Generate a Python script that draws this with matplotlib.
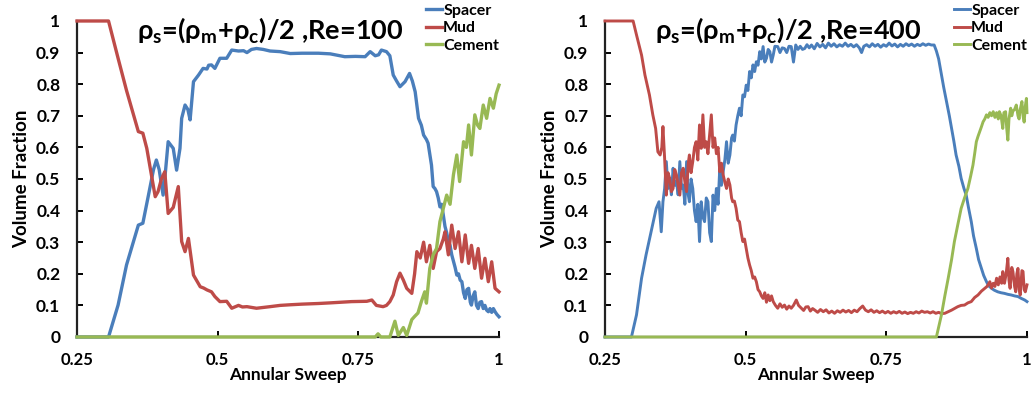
import matplotlib
matplotlib.use("Agg")
import matplotlib.pyplot as plt

plt.rcParams['font.family'] = ['Lato', 'DejaVu Sans']
plt.rcParams['font.weight'] = 'bold'

# ---- Re=100 ----
x_spacer_100 = [0.25, 0.306, 0.323, 0.338, 0.359, 0.367, 0.377, 0.386, 0.391, 0.396, 0.403, 0.407,
                0.412, 0.421, 0.427, 0.433, 0.436, 0.442, 0.447, 0.451, 0.457, 0.466, 0.474, 0.481,
                0.484, 0.489, 0.495, 0.504, 0.516, 0.525, 0.537, 0.546, 0.552, 0.560, 0.569, 0.581,
                0.593, 0.611, 0.629, 0.65, 0.679, 0.70, 0.726, 0.745, 0.762, 0.771, 0.78, 0.786,
                0.791, 0.80, 0.806, 0.812, 0.818, 0.824, 0.833, 0.841, 0.846, 0.851, 0.857, 0.862,
                0.866, 0.871, 0.874, 0.880, 0.883, 0.886, 0.889, 0.892, 0.895, 0.898, 0.901, 0.904,
                0.907, 0.910, 0.913, 0.916, 0.919, 0.922, 0.925, 0.928, 0.931, 0.934, 0.937, 0.940,
                0.943, 0.946, 0.949, 0.951, 0.954, 0.957, 0.960, 0.963, 0.966, 0.969, 0.972, 0.975,
                0.978, 0.981, 0.984, 0.987, 0.990, 0.993, 0.996, 1.0]
spacer_100 = [0, 0, 0.101, 0.228, 0.354, 0.36, 0.449, 0.53, 0.56, 0.53, 0.449, 0.52,
              0.618, 0.597, 0.528, 0.597, 0.692, 0.734, 0.72, 0.687, 0.808, 0.829, 0.85, 0.848,
              0.86, 0.861, 0.85, 0.882, 0.882, 0.908, 0.905, 0.906, 0.90, 0.91, 0.913, 0.91,
              0.905, 0.903, 0.897, 0.898, 0.898, 0.896, 0.887, 0.888, 0.887, 0.903, 0.89, 0.893,
              0.908, 0.903, 0.89, 0.829, 0.81, 0.792, 0.808, 0.834, 0.81, 0.776, 0.692, 0.67,
              0.639, 0.625, 0.613, 0.544, 0.476, 0.47, 0.46, 0.44, 0.412, 0.42, 0.386, 0.35,
              0.33, 0.302, 0.29, 0.26, 0.24, 0.22, 0.196, 0.2, 0.18, 0.175, 0.14, 0.122,
              0.15, 0.154, 0.11, 0.101, 0.13, 0.143, 0.10, 0.09, 0.11, 0.112, 0.09, 0.10,
              0.085, 0.08, 0.09, 0.078, 0.09, 0.08, 0.072, 0.064]

x_mud_100 = [0.25, 0.306, 0.323, 0.338, 0.359, 0.367, 0.374, 0.389, 0.394, 0.400, 0.406, 0.412,
             0.421, 0.430, 0.436, 0.442, 0.448, 0.457, 0.469, 0.475, 0.481, 0.489, 0.495, 0.504,
             0.516, 0.525, 0.537, 0.544, 0.552, 0.569, 0.593, 0.611, 0.629, 0.65, 0.679, 0.70,
             0.738, 0.765, 0.774, 0.782, 0.794, 0.80, 0.806, 0.812, 0.818, 0.824, 0.830, 0.836,
             0.845, 0.850, 0.854, 0.860, 0.866, 0.871, 0.877, 0.883, 0.889, 0.895, 0.901, 0.904,
             0.910, 0.916, 0.922, 0.928, 0.934, 0.940, 0.946, 0.951, 0.957, 0.963, 0.969, 0.975,
             0.981, 0.987, 0.993, 1.0]
mud_100 = [1, 1, 0.882, 0.78, 0.65, 0.645, 0.597, 0.444, 0.46, 0.50, 0.523, 0.391,
           0.41, 0.476, 0.302, 0.27, 0.312, 0.196, 0.159, 0.155, 0.149, 0.143, 0.128, 0.112,
           0.113, 0.091, 0.10, 0.095, 0.096, 0.091, 0.096, 0.10, 0.102, 0.104, 0.106, 0.108,
           0.112, 0.113, 0.117, 0.10, 0.096, 0.10, 0.112, 0.133, 0.175, 0.202, 0.18, 0.154,
           0.138, 0.2, 0.27, 0.25, 0.30, 0.238, 0.29, 0.217, 0.27, 0.28, 0.31, 0.333,
           0.26, 0.354, 0.28, 0.333, 0.238, 0.323, 0.233, 0.29, 0.217, 0.28, 0.186, 0.249,
           0.175, 0.238, 0.154, 0.143]

x_cement_100 = [0.25, 0.78, 0.785, 0.79, 0.806, 0.815, 0.821, 0.83, 0.836, 0.845, 0.850, 0.856,
                0.862, 0.868, 0.871, 0.877, 0.883, 0.889, 0.895, 0.901, 0.907, 0.913, 0.919, 0.925,
                0.930, 0.937, 0.942, 0.946, 0.951, 0.957, 0.962, 0.966, 0.972, 0.978, 0.984, 0.99,
                0.995, 1.0]
cement_100 = [0, 0, 0.01, 0, 0, 0.05, 0.005, 0.03, 0.005, 0.055, 0.065, 0.076,
              0.112, 0.143, 0.107, 0.217, 0.26, 0.28, 0.365, 0.407, 0.449, 0.42, 0.513, 0.576,
              0.492, 0.618, 0.60, 0.671, 0.576, 0.703, 0.67, 0.66, 0.734, 0.692, 0.755, 0.724,
              0.77, 0.797]

# ---- Re=400 ----
x_spacer_400 = [0.25, 0.297, 0.306, 0.315, 0.323, 0.332, 0.341, 0.346, 0.350, 0.353, 0.356, 0.359,
                0.362, 0.365, 0.368, 0.371, 0.374, 0.377, 0.380, 0.383, 0.386, 0.389, 0.392, 0.395,
                0.398, 0.400, 0.403, 0.406, 0.409, 0.412, 0.415, 0.418, 0.421, 0.424, 0.427, 0.430,
                0.433, 0.436, 0.439, 0.442, 0.445, 0.448, 0.451, 0.454, 0.457, 0.460, 0.463, 0.466,
                0.469, 0.472, 0.475, 0.477, 0.480, 0.483, 0.486, 0.489, 0.492, 0.495, 0.498, 0.501,
                0.504, 0.507, 0.510, 0.513, 0.516, 0.519, 0.522, 0.525, 0.528, 0.531, 0.534, 0.537,
                0.540, 0.543, 0.546, 0.549, 0.552, 0.557, 0.561, 0.565, 0.569, 0.573, 0.577, 0.581,
                0.585, 0.589, 0.593, 0.597, 0.601, 0.605, 0.609, 0.613, 0.617, 0.622, 0.627, 0.632,
                0.637, 0.642, 0.647, 0.652, 0.657, 0.662, 0.667, 0.672, 0.677, 0.682, 0.687, 0.692,
                0.697, 0.702, 0.706, 0.710, 0.715, 0.72, 0.725, 0.73, 0.735, 0.74, 0.745, 0.75,
                0.755, 0.76, 0.765, 0.77, 0.775, 0.78, 0.785, 0.79, 0.795, 0.8, 0.805, 0.81,
                0.815, 0.82, 0.825, 0.83, 0.835, 0.839, 0.843, 0.848, 0.852, 0.857, 0.862, 0.866,
                0.870, 0.874, 0.879, 0.883, 0.888, 0.892, 0.896, 0.901, 0.905, 0.910, 0.914, 0.919,
                0.923, 0.928, 0.932, 0.937, 0.942, 0.948, 0.954, 0.96, 0.966, 0.972, 0.978, 0.984,
                0.99, 0.996, 1.0]
spacer_400 = [0, 0, 0.07, 0.186, 0.26, 0.333, 0.407, 0.428, 0.333, 0.428, 0.47, 0.555,
              0.47, 0.502, 0.45, 0.534, 0.48, 0.492, 0.45, 0.555, 0.47, 0.481, 0.42, 0.555,
              0.45, 0.428, 0.50, 0.47, 0.40, 0.365, 0.42, 0.302, 0.428, 0.38, 0.365, 0.44,
              0.428, 0.33, 0.302, 0.449, 0.40, 0.47, 0.42, 0.534, 0.48, 0.523, 0.56, 0.618,
              0.55, 0.576, 0.63, 0.639, 0.62, 0.671, 0.70, 0.724, 0.70, 0.766, 0.76, 0.797,
              0.78, 0.84, 0.82, 0.861, 0.84, 0.871, 0.86, 0.903, 0.88, 0.919, 0.87, 0.882,
              0.91, 0.903, 0.87, 0.892, 0.92, 0.919, 0.90, 0.915, 0.913, 0.90, 0.92, 0.919,
              0.87, 0.924, 0.91, 0.92, 0.91, 0.913, 0.925, 0.915, 0.924, 0.912, 0.929, 0.918,
              0.926, 0.915, 0.93, 0.92, 0.928, 0.918, 0.925, 0.92, 0.93, 0.92, 0.926, 0.918,
              0.925, 0.915, 0.90, 0.92, 0.925, 0.918, 0.928, 0.92, 0.926, 0.917, 0.925, 0.92,
              0.93, 0.921, 0.927, 0.918, 0.926, 0.92, 0.928, 0.922, 0.927, 0.92, 0.926, 0.922,
              0.928, 0.923, 0.927, 0.924, 0.924, 0.905, 0.88, 0.829, 0.79, 0.745, 0.70, 0.66,
              0.62, 0.576, 0.54, 0.502, 0.47, 0.449, 0.41, 0.365, 0.32, 0.28, 0.245, 0.217,
              0.195, 0.175, 0.162, 0.154, 0.148, 0.143, 0.14, 0.138, 0.135, 0.133, 0.13, 0.128,
              0.122, 0.117, 0.112]

x_mud_400 = [0.25, 0.300, 0.306, 0.315, 0.321, 0.329, 0.335, 0.340, 0.344, 0.348, 0.351, 0.353,
             0.356, 0.359, 0.362, 0.365, 0.368, 0.371, 0.374, 0.377, 0.380, 0.383, 0.386, 0.389,
             0.392, 0.395, 0.398, 0.400, 0.403, 0.406, 0.409, 0.412, 0.415, 0.418, 0.421, 0.424,
             0.427, 0.430, 0.433, 0.436, 0.439, 0.442, 0.445, 0.448, 0.451, 0.454, 0.457, 0.460,
             0.463, 0.466, 0.469, 0.472, 0.475, 0.477, 0.480, 0.483, 0.486, 0.489, 0.492, 0.495,
             0.498, 0.501, 0.504, 0.507, 0.510, 0.513, 0.516, 0.519, 0.522, 0.525, 0.528, 0.531,
             0.534, 0.537, 0.540, 0.543, 0.546, 0.549, 0.553, 0.557, 0.561, 0.565, 0.569, 0.573,
             0.577, 0.581, 0.585, 0.590, 0.594, 0.599, 0.603, 0.607, 0.611, 0.615, 0.619, 0.623,
             0.628, 0.633, 0.638, 0.643, 0.648, 0.653, 0.658, 0.663, 0.668, 0.673, 0.678, 0.683,
             0.688, 0.693, 0.698, 0.703, 0.708, 0.713, 0.718, 0.723, 0.728, 0.733, 0.738, 0.743,
             0.748, 0.753, 0.758, 0.763, 0.768, 0.773, 0.778, 0.783, 0.788, 0.793, 0.798, 0.803,
             0.808, 0.813, 0.818, 0.823, 0.828, 0.833, 0.838, 0.843, 0.848, 0.854, 0.86, 0.866,
             0.871, 0.877, 0.883, 0.889, 0.895, 0.901, 0.907, 0.913, 0.919, 0.925, 0.929, 0.934,
             0.937, 0.940, 0.943, 0.946, 0.949, 0.952, 0.955, 0.957, 0.960, 0.963, 0.966, 0.968,
             0.970, 0.973, 0.975, 0.978, 0.980, 0.982, 0.984, 0.986, 0.988, 0.991, 0.993, 0.995,
             0.997, 1.0]
mud_400 = [1, 1, 0.956, 0.892, 0.829, 0.766, 0.703, 0.66, 0.586, 0.576, 0.60, 0.666,
           0.565, 0.449, 0.52, 0.502, 0.46, 0.47, 0.53, 0.513, 0.48, 0.449, 0.52, 0.534,
           0.49, 0.46, 0.55, 0.576, 0.52, 0.555, 0.60, 0.618, 0.56, 0.671, 0.597, 0.703,
           0.60, 0.618, 0.58, 0.64, 0.703, 0.60, 0.63, 0.58, 0.60, 0.523, 0.55, 0.513,
           0.49, 0.47, 0.50, 0.481, 0.44, 0.428, 0.43, 0.407, 0.37, 0.365, 0.33, 0.302,
           0.31, 0.28, 0.25, 0.228, 0.21, 0.186, 0.19, 0.175, 0.15, 0.143, 0.13, 0.122,
           0.14, 0.11, 0.133, 0.115, 0.13, 0.112, 0.10, 0.091, 0.105, 0.094, 0.101, 0.088,
           0.098, 0.091, 0.10, 0.117, 0.10, 0.091, 0.084, 0.095, 0.096, 0.082, 0.09, 0.085,
           0.078, 0.087, 0.08, 0.086, 0.076, 0.082, 0.075, 0.083, 0.078, 0.085, 0.079, 0.084,
           0.077, 0.085, 0.08, 0.09, 0.098, 0.085, 0.08, 0.086, 0.078, 0.083, 0.077, 0.082,
           0.076, 0.081, 0.075, 0.08, 0.076, 0.081, 0.075, 0.079, 0.074, 0.078, 0.075, 0.08,
           0.076, 0.082, 0.078, 0.08, 0.076, 0.08, 0.075, 0.078, 0.074, 0.075, 0.08, 0.085,
           0.09, 0.096, 0.10, 0.101, 0.108, 0.112, 0.125, 0.133, 0.145, 0.154, 0.16, 0.175,
           0.155, 0.17, 0.16, 0.186, 0.165, 0.19, 0.17, 0.207, 0.17, 0.20, 0.249, 0.18,
           0.154, 0.22, 0.207, 0.16, 0.143, 0.20, 0.217, 0.15, 0.133, 0.21, 0.207, 0.15,
           0.143, 0.165]

x_cement_400 = [0.25, 0.839, 0.848, 0.854, 0.86, 0.866, 0.871, 0.877, 0.883, 0.889, 0.895, 0.900,
                0.904, 0.907, 0.910, 0.913, 0.916, 0.919, 0.922, 0.925, 0.928, 0.931, 0.934, 0.937,
                0.940, 0.943, 0.946, 0.949, 0.951, 0.954, 0.957, 0.959, 0.962, 0.964, 0.966, 0.968,
                0.971, 0.973, 0.975, 0.978, 0.981, 0.984, 0.986, 0.988, 0.991, 0.993, 0.995, 0.997,
                0.999, 1.0]
cement_400 = [0, 0, 0.07, 0.13, 0.186, 0.245, 0.302, 0.355, 0.407, 0.44, 0.47, 0.51,
              0.544, 0.58, 0.618, 0.635, 0.65, 0.665, 0.681, 0.69, 0.703, 0.695, 0.71, 0.70,
              0.713, 0.695, 0.71, 0.69, 0.713, 0.70, 0.66, 0.71, 0.713, 0.66, 0.623, 0.69,
              0.724, 0.70, 0.715, 0.72, 0.734, 0.70, 0.69, 0.72, 0.745, 0.70, 0.68, 0.73,
              0.755, 0.71]

x_ticks = [0.25, 0.5, 0.75, 1]
x_tick_labels = ['0.25', '0.5', '0.75', '1']
y_ticks = [0, 0.1, 0.2, 0.3, 0.4, 0.5, 0.6, 0.7, 0.8, 0.9, 1]
y_tick_labels = ['0', '0.1', '0.2', '0.3', '0.4', '0.5', '0.6', '0.7', '0.8', '0.9', '1']

blue = '#4A7EBB'
red = '#BE4B48'
green = '#98B954'


def draw_panel(ax, xs, ys, re, lw, title_x):
    names = ['Spacer', 'Mud', 'Cement']
    colors = [blue, red, green]
    for x, y, name, c in zip(xs, ys, names, colors):
        ax.plot(x, y, color=c, lw=lw, label=name, clip_on=False, zorder=3,
                solid_joinstyle='round')
    ax.set_xlim(0.25, 1)
    ax.set_ylim(0, 1)
    for s in ['top', 'right']:
        ax.spines[s].set_visible(False)
    for s in ['left', 'bottom']:
        ax.spines[s].set_linewidth(1.6)
        ax.spines[s].set_color('#222222')
    ax.set_xticks(x_ticks)
    ax.set_xticklabels(x_tick_labels)
    ax.set_yticks(y_ticks)
    ax.set_yticklabels(y_tick_labels)
    ax.tick_params(axis='x', direction='in', length=4, width=1.4, pad=11, labelsize=12)
    ax.tick_params(axis='y', direction='in', length=4, width=1.4, pad=12, labelsize=12.5)
    ax.set_xlabel('Annular Sweep', fontsize=12.5, fontweight='bold', labelpad=-1)
    ax.set_ylabel('Volume Fraction', fontsize=13.5, fontweight='bold', labelpad=4)
    ax.text(title_x, 0.97,
            r'ρ$_\mathregular{s}$=(ρ$_\mathregular{m}$+ρ$_\mathregular{c}$)/2 ,Re=' + re,
            transform=ax.transAxes, ha='center', va='center', fontsize=19.5, fontweight='bold')
    ax.legend(loc='upper right', bbox_to_anchor=(1.0, 1.055), frameon=False,
              fontsize=11.5, handlelength=1.0, handletextpad=0.1, labelspacing=0.2,
              borderpad=0, borderaxespad=0)


fig = plt.figure(figsize=(10.31, 3.93), dpi=100)
ax1 = fig.add_axes([0.0747, 0.1425, 0.4093, 0.8041])
ax2 = fig.add_axes([0.5868, 0.1425, 0.4093, 0.8041])

draw_panel(ax1, [x_spacer_100, x_mud_100, x_cement_100],
           [spacer_100, mud_100, cement_100], '100', 2.4, 0.457)
draw_panel(ax2, [x_spacer_400, x_mud_400, x_cement_400],
           [spacer_400, mud_400, cement_400], '400', 2.1, 0.434)

fig.savefig('out.png', dpi=100)
